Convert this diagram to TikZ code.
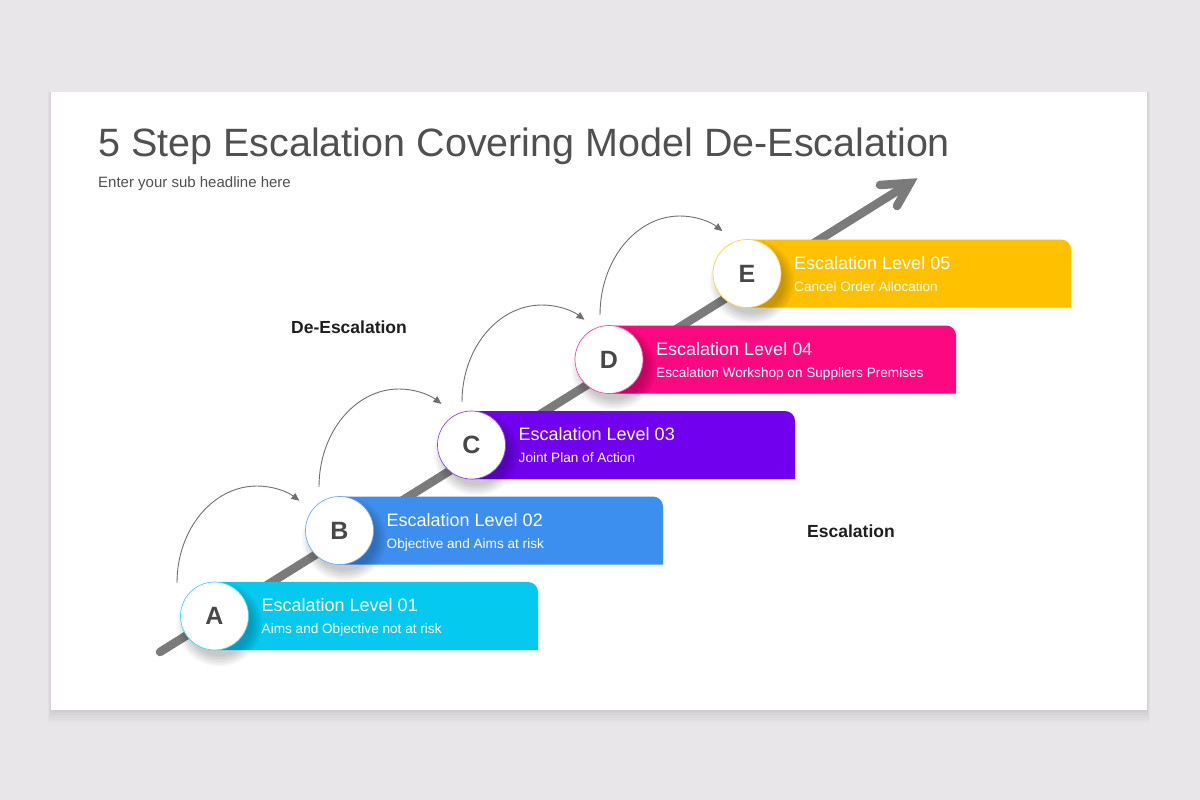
\documentclass[tikz,border=0pt]{standalone}
\usepackage{fontspec}
\setmainfont{Liberation Sans}
\usetikzlibrary{arrows.meta,calc}
\definecolor{bg}{HTML}{E8E6E8}
\definecolor{cA}{HTML}{05C9EF}
\definecolor{cB}{HTML}{3D8FEF}
\definecolor{cC}{HTML}{7000EE}
\definecolor{cD}{HTML}{FC0880}
\definecolor{cE}{HTML}{FFC000}
\definecolor{arrowgray}{HTML}{7B7B7B}
\definecolor{arcgray}{HTML}{707070}
\definecolor{titlegray}{HTML}{505050}
\definecolor{lettergray}{HTML}{484848}
\definecolor{labeldark}{HTML}{1E1E1E}
\tikzset{
  stepcircle/.style={circle, fill=white, draw=#1!75, line width=0.7pt, minimum size=68pt, inner sep=0pt,
    font=\fontsize{25}{25}\selectfont\bfseries, text=lettergray},
  steptitle/.style={anchor=base west, inner sep=0pt, text=white, font=\fontsize{18}{18}\selectfont},
  stepsub/.style={anchor=base west, inner sep=0pt, text=white, font=\fontsize{13.6}{13.6}\selectfont},
  arcarrow/.style={arcgray, line width=0.9pt, -{Triangle[length=8pt,width=7pt]}},
  sidelabel/.style={text=labeldark, font=\fontsize{17.5}{17.5}\selectfont\bfseries},
}
% #1 name, #2 cx, #3 cy, #4 right x, #5 colour, #6 letter, #7 title, #8 sub
\newcommand\drawstep[8]{%
  \fill[#5] (#2,#3-34) -- (#4-10,#3-34) arc[start angle=-90,end angle=0,radius=10] -- (#4,#3+34) -- (#2,#3+34) -- cycle;
  \foreach \k in {0,...,7}{\fill[black,opacity=0.028] (#2+5,#3+8) circle[radius={32pt+\k*1.5pt}];}
  \node[stepcircle=#5] (#1) at (#2,#3) {#6};
  \node[steptitle] (#1t) at (#2+47,#3-4.5) {#7};
  \node[stepsub] (#1s) at (#2+47,#3+17.5) {#8};
}
\begin{document}
\begin{tikzpicture}[x=1pt,y=-1pt]
\useasboundingbox (0,0) rectangle (1200,800);
\fill[bg] (0,0) rectangle (1200,800);
% slide shadow
\foreach \i in {1,...,8}{\fill[black,opacity=0.012] (51-\i*0.4,92) rectangle (1147+\i*0.4,710+\i*1.6);}
\fill[white] (51,92) rectangle (1147,710);
% title
\node[anchor=base west, text=titlegray, font=\fontsize{39.5}{39.5}\selectfont, inner sep=0pt] (title) at (98,156) {5 Step Escalation Covering Model De-Escalation};
\node[anchor=base west, text=titlegray, font=\fontsize{15}{15}\selectfont, inner sep=0pt] (sub) at (98,187) {Enter your sub headline here};
% main arrow
\coordinate (arrStart) at (160,652);
\coordinate (arrTip) at (910,183);
\coordinate (armL) at (880,185);
\coordinate (armR) at (897,206);
\draw[arrowgray, line width=8.5pt, line cap=round] (arrStart) -- (arrTip);
\draw[arrowgray, line width=8.5pt, line cap=round, line join=miter] (armL) -- (arrTip) -- (armR);
% curved arrows
\coordinate (s1) at (177,583);
\coordinate (s2) at (319,487);
\coordinate (s3) at (462,402);
\coordinate (s4) at (600,315);
\draw[arcarrow] (s1) arc[start angle=180,end angle=302,x radius=80,y radius=97];
\draw[arcarrow] (s2) arc[start angle=180,end angle=302,x radius=80,y radius=98];
\draw[arcarrow] (s3) arc[start angle=180,end angle=302,x radius=80,y radius=97];
\draw[arcarrow] (s4) arc[start angle=180,end angle=302,x radius=80,y radius=99];
% steps
\drawstep{E}{747}{273.5}{1071}{cE}{E}{Escalation Level 05}{Cancel Order Allocation}
\drawstep{D}{609}{359.5}{956}{cD}{D}{Escalation Level 04}{Escalation Workshop on Suppliers Premises}
\drawstep{C}{471.5}{445}{795}{cC}{C}{Escalation Level 03}{Joint Plan of Action}
\drawstep{B}{339.5}{530.5}{663}{cB}{B}{Escalation Level 02}{Objective and Aims at risk}
\drawstep{A}{214.5}{616}{538}{cA}{A}{Escalation Level 01}{Aims and Objective not at risk}
% side labels
\node[sidelabel] (deesc) at (349,327) {De-Escalation};
\node[sidelabel] (esc) at (851,531) {Escalation};
\end{tikzpicture}
\end{document}
